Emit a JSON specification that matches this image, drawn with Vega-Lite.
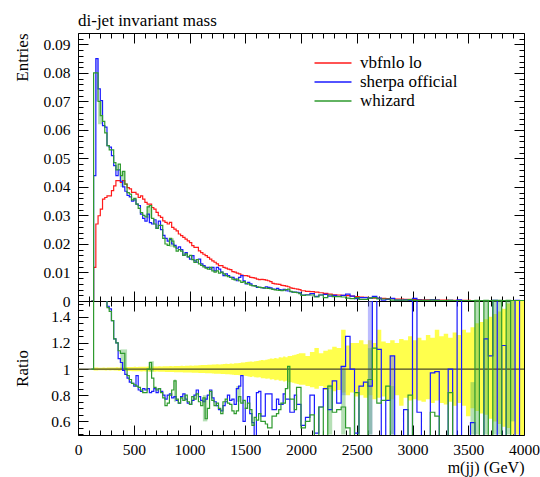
{
"$schema": "https://vega.github.io/schema/vega-lite/v6.json",
"padding": {"left": 12, "top": 11, "right": 2, "bottom": 2},
"bounds": "flush",
"config": {
  "font": "Liberation Serif",
  "view": {"stroke": "#000", "strokeWidth": 1},
  "axis": {"domain": false, "grid": false, "tickColor": "#000", "tickWidth": 1, "labelColor": "#000", "labelFont": "Liberation Serif", "labelFontSize": 15.5, "titleFont": "Liberation Serif", "titleFontSize": 17, "titleFontWeight": "normal", "titleColor": "#000", "labelOverlap": false, "labelFlush": false, "minExtent": 0},
  "title": {"font": "Liberation Serif", "fontSize": 17, "fontWeight": "normal", "anchor": "start", "frame": "group", "color": "#000"},
  "concat": {"spacing": 0}
},
"datasets": {
"boxes": [
{"s":"b","m":160,"m2":180,"p":"top","lo":0.07,"hi":0.085},
{"s":"g","m":180,"m2":220,"p":"top","lo":0.062,"hi":0.07},
{"s":"g","m":380,"m2":420,"p":"top","lo":0.04,"hi":0.0455},
{"s":"g","m":620,"m2":660,"p":"top","lo":0.029,"hi":0.0335},
{"s":"g","m":820,"m2":860,"p":"top","lo":0.019,"hi":0.022},
{"s":"g","m":380,"m2":440,"p":"ratio","lo":1.0,"hi":1.15},
{"s":"g","m":640,"m2":680,"p":"ratio","lo":0.98,"hi":1.06},
{"s":"g","m":860,"m2":880,"p":"ratio","lo":0.75,"hi":0.92},
{"s":"g","m":1120,"m2":1160,"p":"ratio","lo":0.6,"hi":0.8},
{"s":"g","m":1420,"m2":1460,"p":"ratio","lo":0.75,"hi":0.87},
{"s":"g","m":1880,"m2":1900,"p":"ratio","lo":0.85,"hi":1.02},
{"s":"g","m":2240,"m2":2280,"p":"ratio","lo":0.5,"hi":0.88},
{"s":"b","m":2360,"m2":2400,"p":"ratio","lo":0.8,"hi":1.02},
{"s":"g","m":2360,"m2":2400,"p":"ratio","lo":0.5,"hi":1.0},
{"s":"b","m":2600,"m2":2640,"p":"ratio","lo":0.5,"hi":1.52},
{"s":"g","m":2600,"m2":2640,"p":"ratio","lo":0.5,"hi":1.16},
{"s":"b","m":2800,"m2":2840,"p":"ratio","lo":0.5,"hi":1.1},
{"s":"g","m":2800,"m2":2840,"p":"ratio","lo":0.5,"hi":0.87},
{"s":"g","m":3520,"m2":3560,"p":"ratio","lo":0.5,"hi":0.9},
{"s":"g","m":3560,"m2":3600,"p":"ratio","lo":0.5,"hi":1.52},
{"s":"g","m":3640,"m2":3680,"p":"ratio","lo":0.5,"hi":1.52},
{"s":"g","m":3720,"m2":3760,"p":"ratio","lo":0.5,"hi":1.52},
{"s":"g","m":3760,"m2":3800,"p":"ratio","lo":0.5,"hi":1.52},
{"s":"g","m":3840,"m2":3880,"p":"ratio","lo":0.5,"hi":1.52},
{"s":"g","m":3880,"m2":3920,"p":"ratio","lo":0.6,"hi":1.52}
],
"main": [
{"m":120,"r":0,"b":0,"g":0,"rs":null,"rw":1,"lo":null,"hi":null},
{"m":140,"r":0.0118,"b":0.044,"g":0.08,"rs":2,"rw":2,"lo":0.988,"hi":1.012},
{"m":160,"r":0.027,"b":0.085,"g":0.08,"rs":2,"rw":2,"lo":0.988,"hi":1.012},
{"m":180,"r":0.0299,"b":0.0744,"g":0.07,"rs":2,"rw":2,"lo":0.99,"hi":1.01},
{"m":200,"r":0.0322,"b":0.0703,"g":0.065,"rs":2,"rw":2,"lo":0.99,"hi":1.01},
{"m":220,"r":0.0357,"b":0.0615,"g":0.063,"rs":1.72,"rw":1.76,"lo":0.99,"hi":1.012},
{"m":240,"r":0.0363,"b":0.061,"g":0.059,"rs":1.68,"rw":1.62,"lo":0.988,"hi":1.01},
{"m":260,"r":0.0369,"b":0.0545,"g":0.0545,"rs":1.48,"rw":1.47,"lo":0.99,"hi":1.012},
{"m":280,"r":0.0369,"b":0.054,"g":0.053,"rs":1.46,"rw":1.44,"lo":0.988,"hi":1.012},
{"m":300,"r":0.0387,"b":0.051,"g":0.053,"rs":1.37,"rw":1.37,"lo":0.99,"hi":1.012},
{"m":320,"r":0.0404,"b":0.0475,"g":0.0485,"rs":1.23,"rw":1.23,"lo":0.988,"hi":1.012},
{"m":340,"r":0.0422,"b":0.044,"g":0.046,"rs":1.2,"rw":1.2,"lo":0.988,"hi":1.014},
{"m":360,"r":0.0422,"b":0.046,"g":0.048,"rs":1.08,"rw":1.14,"lo":0.986,"hi":1.012},
{"m":380,"r":0.0416,"b":0.042,"g":0.044,"rs":1.05,"rw":1.12,"lo":0.988,"hi":1.014},
{"m":400,"r":0.0422,"b":0.04,"g":0.0455,"rs":0.99,"rw":1.12,"lo":0.986,"hi":1.014},
{"m":420,"r":0.041,"b":0.0385,"g":0.041,"rs":0.96,"rw":1.0,"lo":0.986,"hi":1.016},
{"m":440,"r":0.0398,"b":0.037,"g":0.038,"rs":0.93,"rw":0.95,"lo":0.985,"hi":1.015},
{"m":460,"r":0.0393,"b":0.0365,"g":0.0375,"rs":0.9,"rw":0.92,"lo":0.985,"hi":1.016},
{"m":480,"r":0.0381,"b":0.035,"g":0.0355,"rs":0.89,"rw":0.89,"lo":0.984,"hi":1.016},
{"m":500,"r":0.0381,"b":0.0355,"g":0.036,"rs":0.87,"rw":0.88,"lo":0.984,"hi":1.017},
{"m":520,"r":0.0375,"b":0.034,"g":0.034,"rs":0.95,"rw":0.87,"lo":0.983,"hi":1.016},
{"m":540,"r":0.0363,"b":0.0335,"g":0.0325,"rs":0.84,"rw":0.86,"lo":0.984,"hi":1.018},
{"m":560,"r":0.0369,"b":0.0305,"g":0.031,"rs":0.83,"rw":0.84,"lo":0.982,"hi":1.017},
{"m":580,"r":0.0357,"b":0.029,"g":0.03,"rs":0.85,"rw":0.82,"lo":0.983,"hi":1.018},
{"m":600,"r":0.0346,"b":0.028,"g":0.0295,"rs":0.84,"rw":0.82,"lo":0.982,"hi":1.018},
{"m":620,"r":0.034,"b":0.0305,"g":0.033,"rs":0.85,"rw":1.0,"lo":0.982,"hi":1.019},
{"m":640,"r":0.034,"b":0.0275,"g":0.0335,"rs":0.82,"rw":1.05,"lo":0.981,"hi":1.018},
{"m":660,"r":0.0328,"b":0.027,"g":0.029,"rs":0.83,"rw":0.93,"lo":0.982,"hi":1.02},
{"m":680,"r":0.0322,"b":0.0285,"g":0.027,"rs":0.85,"rw":0.86,"lo":0.98,"hi":1.02},
{"m":700,"r":0.0311,"b":0.0255,"g":0.0255,"rs":0.82,"rw":0.84,"lo":0.981,"hi":1.02},
{"m":720,"r":0.0299,"b":0.028,"g":0.0265,"rs":0.85,"rw":0.85,"lo":0.98,"hi":1.021},
{"m":740,"r":0.0293,"b":0.025,"g":0.0265,"rs":0.83,"rw":0.82,"lo":0.979,"hi":1.02},
{"m":760,"r":0.0281,"b":0.023,"g":0.022,"rs":0.8,"rw":0.78,"lo":0.98,"hi":1.022},
{"m":780,"r":0.0276,"b":0.022,"g":0.02,"rs":0.77,"rw":0.72,"lo":0.978,"hi":1.021},
{"m":800,"r":0.027,"b":0.021,"g":0.0195,"rs":0.8,"rw":0.74,"lo":0.978,"hi":1.022},
{"m":820,"r":0.0276,"b":0.0215,"g":0.022,"rs":0.81,"rw":0.8,"lo":0.977,"hi":1.023},
{"m":840,"r":0.0258,"b":0.02,"g":0.021,"rs":0.78,"rw":0.84,"lo":0.977,"hi":1.022},
{"m":860,"r":0.0252,"b":0.0195,"g":0.019,"rs":0.79,"rw":0.91,"lo":0.976,"hi":1.024},
{"m":880,"r":0.0246,"b":0.0185,"g":0.0175,"rs":0.76,"rw":0.77,"lo":0.976,"hi":1.023},
{"m":900,"r":0.0235,"b":0.019,"g":0.018,"rs":0.74,"rw":0.74,"lo":0.975,"hi":1.024},
{"m":920,"r":0.0229,"b":0.018,"g":0.0175,"rs":0.79,"rw":0.78,"lo":0.975,"hi":1.025},
{"m":940,"r":0.0223,"b":0.016,"g":0.016,"rs":0.81,"rw":0.76,"lo":0.974,"hi":1.024},
{"m":960,"r":0.0217,"b":0.017,"g":0.0165,"rs":0.77,"rw":0.8,"lo":0.974,"hi":1.026},
{"m":980,"r":0.0211,"b":0.0155,"g":0.0155,"rs":0.74,"rw":0.75,"lo":0.973,"hi":1.025},
{"m":1000,"r":0.0205,"b":0.0147,"g":0.016,"rs":0.73,"rw":0.73,"lo":0.973,"hi":1.027},
{"m":1020,"r":0.0194,"b":0.0159,"g":0.0145,"rs":0.76,"rw":0.79,"lo":0.972,"hi":1.026},
{"m":1040,"r":0.0188,"b":0.0141,"g":0.0135,"rs":0.8,"rw":0.77,"lo":0.971,"hi":1.028},
{"m":1060,"r":0.0188,"b":0.0136,"g":0.0145,"rs":0.84,"rw":0.81,"lo":0.972,"hi":1.028},
{"m":1080,"r":0.0176,"b":0.0147,"g":0.013,"rs":0.79,"rw":0.75,"lo":0.97,"hi":1.029},
{"m":1100,"r":0.017,"b":0.013,"g":0.0125,"rs":0.76,"rw":0.72,"lo":0.97,"hi":1.03},
{"m":1120,"r":0.0164,"b":0.0124,"g":0.012,"rs":0.75,"rw":0.78,"lo":0.969,"hi":1.03},
{"m":1140,"r":0.0159,"b":0.0118,"g":0.0115,"rs":0.77,"rw":0.62,"lo":0.968,"hi":1.031},
{"m":1160,"r":0.0153,"b":0.0118,"g":0.0112,"rs":0.8,"rw":0.7,"lo":0.968,"hi":1.032},
{"m":1180,"r":0.0147,"b":0.0112,"g":0.0118,"rs":0.84,"rw":0.83,"lo":0.967,"hi":1.032},
{"m":1200,"r":0.0141,"b":0.0118,"g":0.0106,"rs":0.78,"rw":0.76,"lo":0.966,"hi":1.034},
{"m":1220,"r":0.0136,"b":0.0106,"g":0.0101,"rs":0.75,"rw":0.72,"lo":0.965,"hi":1.034},
{"m":1240,"r":0.013,"b":0.0118,"g":0.0106,"rs":0.72,"rw":0.74,"lo":0.964,"hi":1.036},
{"m":1260,"r":0.0124,"b":0.0112,"g":0.0098,"rs":0.69,"rw":0.7,"lo":0.964,"hi":1.035},
{"m":1280,"r":0.0124,"b":0.0101,"g":0.0101,"rs":0.68,"rw":0.66,"lo":0.962,"hi":1.037},
{"m":1300,"r":0.0118,"b":0.0089,"g":0.0095,"rs":0.72,"rw":0.75,"lo":0.962,"hi":1.038},
{"m":1320,"r":0.0115,"b":0.0095,"g":0.0089,"rs":0.75,"rw":0.77,"lo":0.96,"hi":1.04},
{"m":1340,"r":0.0112,"b":0.0089,"g":0.0085,"rs":0.8,"rw":0.74,"lo":0.96,"hi":1.039},
{"m":1360,"r":0.011,"b":0.0083,"g":0.0083,"rs":0.76,"rw":0.73,"lo":0.958,"hi":1.042},
{"m":1380,"r":0.0103,"b":0.0083,"g":0.0077,"rs":0.77,"rw":0.68,"lo":0.957,"hi":1.041},
{"m":1400,"r":0.0101,"b":0.0077,"g":0.0074,"rs":0.73,"rw":0.66,"lo":0.955,"hi":1.044},
{"m":1420,"r":0.0098,"b":0.0071,"g":0.0077,"rs":0.85,"rw":0.68,"lo":0.954,"hi":1.045},
{"m":1440,"r":0.0095,"b":0.0083,"g":0.0071,"rs":0.87,"rw":0.79,"lo":0.952,"hi":1.046},
{"m":1460,"r":0.0091,"b":0.0089,"g":0.0065,"rs":0.95,"rw":0.74,"lo":0.95,"hi":1.05},
{"m":1480,"r":0.0089,"b":0.0071,"g":0.0068,"rs":0.6,"rw":0.76,"lo":0.948,"hi":1.05},
{"m":1500,"r":0.0089,"b":0.006,"g":0.0062,"rs":0.7,"rw":0.7,"lo":0.946,"hi":1.053},
{"m":1520,"r":0.0087,"b":0.0065,"g":0.006,"rs":0.79,"rw":0.74,"lo":0.944,"hi":1.055},
{"m":1540,"r":0.0083,"b":0.006,"g":0.0056,"rs":0.66,"rw":0.69,"lo":0.94,"hi":1.058},
{"m":1560,"r":0.0082,"b":0.0054,"g":0.0054,"rs":0.59,"rw":0.57,"lo":0.944,"hi":1.056},
{"m":1580,"r":0.008,"b":0.0054,"g":0.0052,"rs":0.49,"rw":0.63,"lo":0.938,"hi":1.06},
{"m":1600,"r":0.0077,"b":0.0048,"g":0.005,"rs":0.82,"rw":0.61,"lo":0.935,"hi":1.062},
{"m":1620,"r":0.0075,"b":0.0048,"g":0.0048,"rs":0.83,"rw":0.66,"lo":0.937,"hi":1.065},
{"m":1640,"r":0.0076,"b":0.0047,"g":0.0047,"rs":0.64,"rw":0.6,"lo":0.93,"hi":1.07},
{"m":1660,"r":0.0075,"b":0.0045,"g":0.0046,"rs":0.64,"rw":0.6,"lo":0.93,"hi":1.068},
{"m":1680,"r":0.0073,"b":0.005,"g":0.0045,"rs":0.81,"rw":0.58,"lo":0.925,"hi":1.072},
{"m":1700,"r":0.0071,"b":0.0048,"g":0.0044,"rs":0.81,"rw":0.55,"lo":0.928,"hi":1.075},
{"m":1720,"r":0.0068,"b":0.0046,"g":0.0043,"rs":0.81,"rw":0.55,"lo":0.92,"hi":1.08},
{"m":1740,"r":0.0062,"b":0.0042,"g":0.0041,"rs":0.69,"rw":0.64,"lo":0.922,"hi":1.078},
{"m":1760,"r":0.006,"b":0.0041,"g":0.0039,"rs":0.69,"rw":0.64,"lo":0.915,"hi":1.085},
{"m":1780,"r":0.0059,"b":0.0044,"g":0.0038,"rs":0.77,"rw":0.66,"lo":0.918,"hi":1.08},
{"m":1800,"r":0.0058,"b":0.004,"g":0.0037,"rs":0.73,"rw":0.69,"lo":0.91,"hi":1.09},
{"m":1820,"r":0.0055,"b":0.0038,"g":0.0036,"rs":0.73,"rw":0.74,"lo":0.912,"hi":1.088},
{"m":1840,"r":0.0054,"b":0.0041,"g":0.0038,"rs":0.81,"rw":0.74,"lo":0.905,"hi":1.095},
{"m":1860,"r":0.0052,"b":0.0036,"g":0.004,"rs":0.77,"rw":0.85,"lo":0.91,"hi":1.09},
{"m":1880,"r":0.005,"b":0.0035,"g":0.0042,"rs":0.77,"rw":1.02,"lo":0.9,"hi":1.1},
{"m":1900,"r":0.0046,"b":0.0033,"g":0.0034,"rs":0.67,"rw":0.77,"lo":0.9,"hi":1.1},
{"m":1920,"r":0.0044,"b":0.0031,"g":0.0031,"rs":0.67,"rw":0.77,"lo":0.895,"hi":1.105},
{"m":1940,"r":0.0043,"b":0.0031,"g":0.003,"rs":0.8,"rw":0.69,"lo":0.89,"hi":1.11},
{"m":1960,"r":0.0042,"b":0.003,"g":0.0029,"rs":0.73,"rw":0.86,"lo":0.885,"hi":1.115},
{"m":1980,"r":0.004,"b":0.0029,"g":0.0026,"rs":0.73,"rw":0.86,"lo":0.88,"hi":1.12},
{"m":2000,"r":0.0036,"b":0.0021,"g":0.002,"rs":0.57,"rw":0.55,"lo":0.88,"hi":1.12},
{"m":2040,"r":0.0034,"b":0.0022,"g":0.0021,"rs":0.63,"rw":0.6,"lo":0.87,"hi":1.1},
{"m":2080,"r":0.0033,"b":0.0026,"g":0.0021,"rs":0.8,"rw":0.65,"lo":0.86,"hi":1.13},
{"m":2120,"r":0.0031,"b":0.0016,"g":0.0014,"rs":0.51,"rw":0.45,"lo":0.85,"hi":1.16},
{"m":2160,"r":0.0029,"b":0.0021,"g":0.0021,"rs":0.71,"rw":0.71,"lo":0.87,"hi":1.12},
{"m":2200,"r":0.0027,"b":0.0023,"g":0.0012,"rs":0.85,"rw":0.45,"lo":0.84,"hi":1.14},
{"m":2240,"r":0.0024,"b":0.0017,"g":0.0021,"rs":0.69,"rw":0.87,"lo":0.85,"hi":1.15},
{"m":2280,"r":0.0022,"b":0.002,"g":0.0015,"rs":0.91,"rw":0.67,"lo":0.83,"hi":1.17},
{"m":2320,"r":0.0021,"b":0.0016,"g":0.0015,"rs":0.74,"rw":0.69,"lo":0.84,"hi":1.16},
{"m":2360,"r":0.002,"b":0.002,"g":0.0014,"rs":1.02,"rw":0.71,"lo":0.82,"hi":1.3},
{"m":2400,"r":0.0019,"b":0.0024,"g":0.001,"rs":1.25,"rw":0.55,"lo":0.8,"hi":1.18},
{"m":2440,"r":0.0017,"b":0.0017,"g":0.0008,"rs":1.0,"rw":0.45,"lo":0.82,"hi":1.2},
{"m":2480,"r":0.0015,"b":0.0008,"g":0.0012,"rs":0.51,"rw":0.82,"lo":0.79,"hi":1.2},
{"m":2520,"r":0.0014,"b":0.0012,"g":0.0006,"rs":0.87,"rw":0.45,"lo":0.8,"hi":1.22},
{"m":2560,"r":0.0013,"b":0.0012,"g":0.0006,"rs":0.9,"rw":0.45,"lo":0.78,"hi":1.19},
{"m":2600,"r":0.0011,"b":0.001,"g":0.001,"rs":0.87,"rw":0.92,"lo":0.8,"hi":1.22},
{"m":2640,"r":0.001,"b":0.0016,"g":0.0012,"rs":1.6,"rw":1.16,"lo":0.77,"hi":1.2},
{"m":2680,"r":0.0009,"b":0.001,"g":0.0007,"rs":1.15,"rw":0.74,"lo":0.78,"hi":1.3},
{"m":2720,"r":0.0009,"b":0.0003,"g":0.0007,"rs":0.4,"rw":0.76,"lo":0.79,"hi":1.21},
{"m":2760,"r":0.0008,"b":0.0006,"g":0.0007,"rs":0.76,"rw":0.87,"lo":0.76,"hi":1.2},
{"m":2800,"r":0.0008,"b":0.0009,"g":0.0003,"rs":1.1,"rw":0.45,"lo":0.77,"hi":1.22},
{"m":2840,"r":0.0007,"b":0.0003,"g":0.0003,"rs":0.4,"rw":0.45,"lo":0.8,"hi":1.2},
{"m":2880,"r":0.0007,"b":0.0003,"g":0.0003,"rs":0.4,"rw":0.45,"lo":0.72,"hi":1.23},
{"m":2920,"r":0.0006,"b":0.0004,"g":0.0003,"rs":0.69,"rw":0.45,"lo":0.78,"hi":1.22},
{"m":2960,"r":0.0006,"b":0.0002,"g":0.0005,"rs":0.4,"rw":0.8,"lo":0.76,"hi":1.25},
{"m":3000,"r":0.0005,"b":0.0009,"g":0.0002,"rs":1.6,"rw":0.45,"lo":0.77,"hi":1.22},
{"m":3040,"r":0.0005,"b":0.0003,"g":0.0002,"rs":0.67,"rw":0.45,"lo":0.76,"hi":1.24},
{"m":3080,"r":0.0004,"b":0.0002,"g":0.0002,"rs":0.4,"rw":0.45,"lo":0.75,"hi":1.22},
{"m":3120,"r":0.0004,"b":0.0002,"g":0.0002,"rs":0.4,"rw":0.45,"lo":0.77,"hi":1.26},
{"m":3160,"r":0.0004,"b":0.0004,"g":0.0003,"rs":0.97,"rw":0.67,"lo":0.74,"hi":1.24},
{"m":3200,"r":0.0003,"b":0.0003,"g":0.0002,"rs":0.98,"rw":0.64,"lo":0.76,"hi":1.3},
{"m":3240,"r":0.0003,"b":0.0001,"g":0.0001,"rs":0.4,"rw":0.45,"lo":0.74,"hi":1.25},
{"m":3280,"r":0.0003,"b":0.0001,"g":0.0001,"rs":0.4,"rw":0.45,"lo":0.73,"hi":1.27},
{"m":3320,"r":0.0002,"b":0.0002,"g":0.0002,"rs":1.0,"rw":0.82,"lo":0.75,"hi":1.24},
{"m":3360,"r":0.0002,"b":0.0001,"g":0.0001,"rs":0.4,"rw":0.45,"lo":0.72,"hi":1.28},
{"m":3400,"r":0.0002,"b":0.0004,"g":0.0001,"rs":1.6,"rw":0.45,"lo":0.74,"hi":1.26},
{"m":3440,"r":0.0002,"b":0.0001,"g":0.0001,"rs":0.4,"rw":0.45,"lo":0.72,"hi":1.3},
{"m":3480,"r":0.0002,"b":0.0001,"g":0.0001,"rs":0.4,"rw":0.45,"lo":0.64,"hi":1.28},
{"m":3520,"r":0.0001,"b":0.0001,"g":0.0001,"rs":0.59,"rw":0.45,"lo":0.7,"hi":1.32},
{"m":3560,"r":0.0001,"b":0.0001,"g":0.0002,"rs":0.4,"rw":1.6,"lo":0.68,"hi":1.35},
{"m":3600,"r":0.0001,"b":0.0001,"g":0.0001,"rs":0.4,"rw":0.45,"lo":0.66,"hi":1.36},
{"m":3640,"r":0.0001,"b":0.0001,"g":0.0002,"rs":1.23,"rw":1.6,"lo":0.65,"hi":1.38},
{"m":3680,"r":0.0001,"b":0.0001,"g":0.0001,"rs":1.1,"rw":0.45,"lo":0.62,"hi":1.4},
{"m":3720,"r":0.0001,"b":0.0002,"g":0.0002,"rs":1.6,"rw":1.6,"lo":0.6,"hi":1.42},
{"m":3760,"r":0.0001,"b":0.0001,"g":0.0002,"rs":0.4,"rw":1.6,"lo":0.58,"hi":1.44},
{"m":3800,"r":0.0001,"b":0.0001,"g":0.0001,"rs":1.18,"rw":0.45,"lo":0.56,"hi":1.46},
{"m":3840,"r":0.0001,"b":0.0001,"g":0.0002,"rs":0.4,"rw":1.6,"lo":0.55,"hi":1.5},
{"m":3880,"r":0.0001,"b":0.0001,"g":0.0001,"rs":0.4,"rw":0.45,"lo":0.5,"hi":1.55},
{"m":3920,"r":0.0001,"b":0.0002,"g":0.0001,"rs":1.6,"rw":0.45,"lo":0.5,"hi":1.55},
{"m":3960,"r":0.0001,"b":0.0001,"g":0.0001,"rs":0.4,"rw":0.45,"lo":0.48,"hi":1.55},
{"m":4000,"r":0.0001,"b":0.0001,"g":0.0001,"rs":0.4,"rw":0.45,"lo":0.48,"hi":1.55}
]},
"data": {"name": "main"},
"vconcat": [
{
  "width": 446, "height": 268,
  "title": {"text": "di-jet invariant mass", "baseline": "alphabetic", "offset": -11},
  "layer": [
    {
      "data": {"name": "boxes"},
      "transform": [{"filter": "datum.p == 'top'"}],
      "mark": {"type": "rect", "opacity": 0.45},
      "encoding": {
        "x": {"field": "m", "type": "quantitative", "scale": {"domain": [0, 4000], "nice": false, "zero": false}, "axis": null},
        "x2": {"field": "m2"},
        "y": {"field": "lo", "type": "quantitative", "scale": {"domain": [0, 0.094], "nice": false}, "axis": null},
        "y2": {"field": "hi"},
        "fill": {"field": "s", "type": "nominal", "scale": {"domain": ["b", "g"], "range": ["#6a6aff", "#5cb85c"]}, "legend": null}
      }
    },
    {
      "transform": [{"fold": ["r", "b", "g"], "as": ["s", "v"]}],
      "mark": {"type": "line", "interpolate": "step-after", "strokeWidth": 1.2, "clip": true},
      "encoding": {
        "x": {"field": "m", "type": "quantitative",
              "axis": {"orient": "bottom", "values": [0,100,200,300,400,500,600,700,800,900,1000,1100,1200,1300,1400,1500,1600,1700,1800,1900,2000,2100,2200,2300,2400,2500,2600,2700,2800,2900,3000,3100,3200,3300,3400,3500,3600,3700,3800,3900,4000],
                       "tickSize": {"condition": {"test": "datum.value % 500 === 0", "value": -10}, "value": -5},
                       "labels": false, "title": null}},
        "y": {"field": "v", "type": "quantitative",
              "axis": {"orient": "left", "values": [0,0.002,0.004,0.006,0.008,0.01,0.012,0.014,0.016,0.018,0.02,0.022,0.024,0.026,0.028,0.03,0.032,0.034,0.036,0.038,0.04,0.042,0.044,0.046,0.048,0.05,0.052,0.054,0.056,0.058,0.06,0.062,0.064,0.066,0.068,0.07,0.072,0.074,0.076,0.078,0.08,0.082,0.084,0.086,0.088,0.09,0.092],
                       "tickSize": {"condition": {"test": "abs(datum.value*100 - round(datum.value*100)) < 0.001", "value": -10}, "value": -5},
                       "labelExpr": "abs(datum.value*100 - round(datum.value*100)) < 0.001 ? format(datum.value, '.2~f') : ''",
                       "labelPadding": 18,
                       "title": "Entries", "titleX": -56, "titleY": 0, "titleAngle": -90, "titleAlign": "right", "titleBaseline": "middle"}},
        "color": {"field": "s", "type": "nominal", "scale": {"domain": ["r", "b", "g"], "range": ["#ff1a1a", "#1a1aff", "#2e9a2e"]},
                  "legend": {"orient": "none", "legendX": 245, "legendY": 20, "title": null, "symbolType": "M-2,0H2", "symbolSize": 342, "symbolStrokeWidth": 1.5,
                             "labelFont": "Liberation Serif", "labelFontSize": 17, "labelColor": "#000", "labelOffset": 17, "rowPadding": 1,
                             "labelExpr": "datum.label == 'r' ? 'vbfnlo lo' : datum.label == 'b' ? 'sherpa official' : 'whizard'"}}
      }
    },
    {
      "transform": [{"fold": ["r", "b", "g"], "as": ["s", "v"]}],
      "mark": {"type": "line", "interpolate": "step-after", "opacity": 0},
      "encoding": {
        "x": {"field": "m", "type": "quantitative",
              "axis": {"orient": "top", "values": [0,100,200,300,400,500,600,700,800,900,1000,1100,1200,1300,1400,1500,1600,1700,1800,1900,2000,2100,2200,2300,2400,2500,2600,2700,2800,2900,3000,3100,3200,3300,3400,3500,3600,3700,3800,3900,4000],
                       "tickSize": {"condition": {"test": "datum.value % 500 === 0", "value": -10}, "value": -5},
                       "labels": false, "title": null}},
        "y": {"field": "v", "type": "quantitative",
              "axis": {"orient": "right", "values": [0,0.002,0.004,0.006,0.008,0.01,0.012,0.014,0.016,0.018,0.02,0.022,0.024,0.026,0.028,0.03,0.032,0.034,0.036,0.038,0.04,0.042,0.044,0.046,0.048,0.05,0.052,0.054,0.056,0.058,0.06,0.062,0.064,0.066,0.068,0.07,0.072,0.074,0.076,0.078,0.08,0.082,0.084,0.086,0.088,0.09,0.092],
                       "tickSize": {"condition": {"test": "abs(datum.value*100 - round(datum.value*100)) < 0.001", "value": -10}, "value": -5},
                       "labels": false, "title": null}},
        "detail": {"field": "s"}
      }
    }
  ],
  "resolve": {"axis": {"x": "independent", "y": "independent"}, "scale": {"fill": "independent"}}
},
{
  "width": 446, "height": 134,
  "layer": [
    {
      "mark": {"type": "area", "interpolate": "step-after", "color": "#ffff4d", "clip": true},
      "encoding": {
        "x": {"field": "m", "type": "quantitative", "scale": {"domain": [0, 4000], "nice": false, "zero": false},
              "axis": {"orient": "bottom", "values": [0,100,200,300,400,500,600,700,800,900,1000,1100,1200,1300,1400,1500,1600,1700,1800,1900,2000,2100,2200,2300,2400,2500,2600,2700,2800,2900,3000,3100,3200,3300,3400,3500,3600,3700,3800,3900,4000],
                       "tickSize": {"condition": {"test": "datum.value % 500 === 0", "value": -10}, "value": -5},
                       "labelExpr": "datum.value % 500 === 0 ? format(datum.value, 'd') : ''",
                       "labelPadding": 17,
                       "title": "m(jj) (GeV)", "titleFontSize": 16, "titleX": 446, "titleY": 32, "titleAlign": "right", "titleBaseline": "middle"}},
        "y": {"field": "lo", "type": "quantitative", "scale": {"domain": [0.496, 1.52], "nice": false, "zero": false},
              "axis": {"orient": "left", "values": [0.5,0.55,0.6,0.65,0.7,0.75,0.8,0.85,0.9,0.95,1,1.05,1.1,1.15,1.2,1.25,1.3,1.35,1.4,1.45,1.5],
                       "tickSize": {"condition": {"test": "abs(datum.value*5 - round(datum.value*5)) < 0.001", "value": -10}, "value": -5},
                       "labelExpr": "abs(datum.value*5 - round(datum.value*5)) < 0.001 && datum.value > 0.55 && datum.value < 1.45 ? format(datum.value, '.1~f') : ''",
                       "labelPadding": 18,
                       "title": "Ratio", "titleX": -56, "titleY": 67, "titleAngle": -90, "titleAlign": "center", "titleBaseline": "middle"}},
        "y2": {"field": "hi"}
      }
    },
    {
      "data": {"name": "boxes"},
      "transform": [{"filter": "datum.p == 'ratio'"}],
      "mark": {"type": "rect", "opacity": 0.45, "clip": true},
      "encoding": {
        "x": {"field": "m", "type": "quantitative", "axis": null},
        "x2": {"field": "m2"},
        "y": {"field": "lo", "type": "quantitative", "axis": null},
        "y2": {"field": "hi"},
        "fill": {"field": "s", "type": "nominal", "scale": {"domain": ["b", "g"], "range": ["#6a6aff", "#5cb85c"]}, "legend": null}
      }
    },
    {
      "data": {"values": [{"ref": 1}]},
      "mark": {"type": "rule", "color": "#4a4a2a", "strokeWidth": 1.3},
      "encoding": {"y": {"field": "ref", "type": "quantitative", "axis": null}}
    },
    {
      "transform": [{"fold": ["rs", "rw"], "as": ["s", "v"]}],
      "mark": {"type": "line", "interpolate": "step-after", "strokeWidth": 1.2, "clip": true},
      "encoding": {
        "x": {"field": "m", "type": "quantitative",
              "axis": {"orient": "top", "values": [0,100,200,300,400,500,600,700,800,900,1000,1100,1200,1300,1400,1500,1600,1700,1800,1900,2000,2100,2200,2300,2400,2500,2600,2700,2800,2900,3000,3100,3200,3300,3400,3500,3600,3700,3800,3900,4000],
                       "tickSize": {"condition": {"test": "datum.value % 500 === 0", "value": -10}, "value": -5},
                       "labels": false, "title": null}},
        "y": {"field": "v", "type": "quantitative",
              "axis": {"orient": "right", "values": [0.5,0.55,0.6,0.65,0.7,0.75,0.8,0.85,0.9,0.95,1,1.05,1.1,1.15,1.2,1.25,1.3,1.35,1.4,1.45,1.5],
                       "tickSize": {"condition": {"test": "abs(datum.value*5 - round(datum.value*5)) < 0.001", "value": -10}, "value": -5},
                       "labels": false, "title": null}},
        "color": {"field": "s", "type": "nominal", "scale": {"domain": ["rs", "rw"], "range": ["#1a1aff", "#2e9a2e"]}, "legend": null}
      }
    }
  ],
  "resolve": {"axis": {"x": "independent", "y": "independent"}}
}
],
"resolve": {"scale": {"color": "independent", "fill": "independent"}}
}
